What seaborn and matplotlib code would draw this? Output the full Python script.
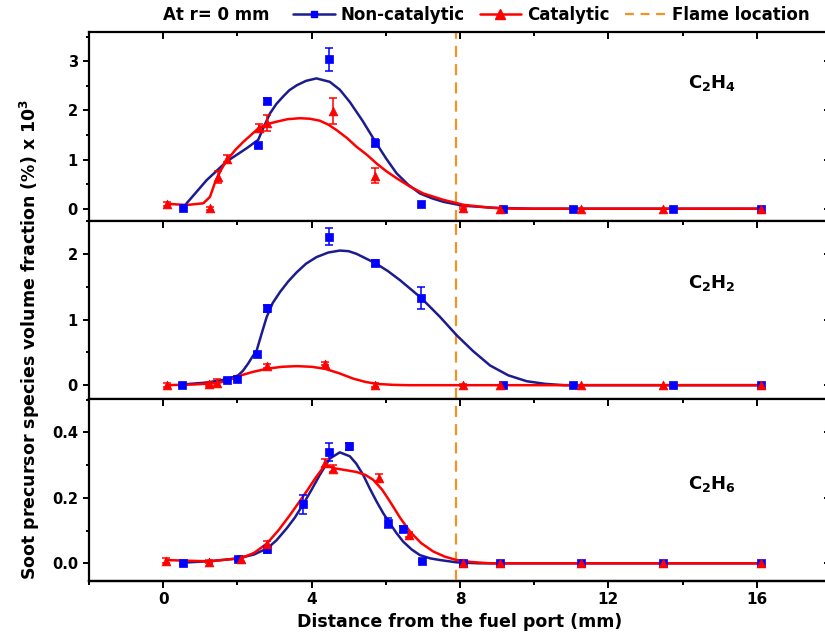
import numpy as np
import pandas as pd
import matplotlib
matplotlib.use("Agg")
import matplotlib.pyplot as plt
import seaborn as sns
from matplotlib.lines import Line2D
from matplotlib.ticker import MultipleLocator, FormatStrFormatter

# ---------------- data ----------------
# C2H4 panel
c2h4_nc_x = [0.54, 2.56, 2.81, 4.47, 5.72, 6.95, 9.16, 11.05, 13.75, 16.1]
c2h4_nc_y = [0.01, 1.29, 2.19, 3.04, 1.34, 0.10, 0.0, 0.0, 0.0, 0.0]
c2h4_nc_err = [0.0, 0.04, 0.06, 0.23, 0.07, 0.0, 0.0, 0.0, 0.0, 0.0]
c2h4_c_x = [0.09, 1.26, 1.47, 1.71, 2.59, 2.81, 4.57, 5.72, 8.09, 9.08, 11.25, 13.46, 16.1]
c2h4_c_y = [0.10, 0.01, 0.65, 1.02, 1.65, 1.75, 1.99, 0.67, 0.02, 0.0, 0.0, 0.0, 0.0]
c2h4_c_err = [0.04, 0.03, 0.12, 0.08, 0.08, 0.16, 0.27, 0.15, 0.02, 0.0, 0.0, 0.0, 0.0]
c2h4_nc_fit_x = [0.54, 1.17, 1.71, 2.25, 2.56, 2.72, 2.88, 3.05, 3.23, 3.4, 3.6, 3.85, 4.13, 4.49,
                 4.76, 5.03, 5.38, 5.72, 6.0, 6.29, 6.6, 6.92, 7.25, 7.55, 8.09, 9.0, 10.0, 16.1]
c2h4_nc_fit_y = [0.03, 0.58, 0.96, 1.23, 1.40, 1.68, 1.94, 2.13, 2.28, 2.41, 2.51, 2.60, 2.65, 2.58,
                 2.42, 2.17, 1.78, 1.36, 1.03, 0.72, 0.49, 0.31, 0.21, 0.14, 0.06, 0.015, 0.0, 0.0]
c2h4_c_fit_x = [0.09, 0.63, 1.08, 1.26, 1.39, 1.55, 1.71, 1.95, 2.16, 2.59, 2.85, 3.06, 3.35, 3.68,
                3.95, 4.22, 4.45, 4.67, 4.95, 5.21, 5.5, 5.75, 6.0, 6.29, 6.65, 7.01, 7.55, 8.09,
                8.8, 9.5, 16.1]
c2h4_c_fit_y = [0.10, 0.075, 0.11, 0.24, 0.52, 0.78, 0.98, 1.20, 1.36, 1.65, 1.73, 1.77, 1.82, 1.84,
                1.83, 1.79, 1.71, 1.60, 1.44, 1.26, 1.09, 0.92, 0.77, 0.62, 0.45, 0.31, 0.18, 0.08,
                0.02, 0.0, 0.0]

# C2H2 panel
c2h2_nc_x = [0.5, 1.71, 1.98, 2.54, 2.81, 4.46, 5.71, 6.95, 9.16, 11.05, 13.75, 16.1]
c2h2_nc_y = [0.0, 0.08, 0.10, 0.47, 1.17, 2.26, 1.86, 1.33, 0.0, 0.0, 0.0, 0.0]
c2h2_nc_err = [0.01, 0.02, 0.02, 0.03, 0.05, 0.13, 0.05, 0.17, 0.0, 0.0, 0.0, 0.0]
c2h2_c_x = [0.09, 1.23, 1.44, 2.79, 4.36, 5.71, 8.09, 9.08, 11.25, 13.46, 16.1]
c2h2_c_y = [0.0, 0.02, 0.04, 0.29, 0.33, 0.0, 0.0, 0.0, 0.0, 0.0, 0.0]
c2h2_c_err = [0.03, 0.03, 0.06, 0.03, 0.03, 0.03, 0.02, 0.0, 0.0, 0.0, 0.0]
c2h2_nc_fit_x = [0.5, 1.17, 1.71, 2.02, 2.15, 2.29, 2.4, 2.52, 2.65, 2.79, 2.95, 3.15, 3.37, 3.6,
                 3.85, 4.13, 4.45, 4.76, 5.0, 5.21, 5.71, 6.05, 6.38, 6.95, 7.46, 7.91, 8.35,
                 8.81, 9.3, 9.8, 10.3, 10.8, 16.1]
c2h2_nc_fit_y = [0.01, 0.04, 0.09, 0.15, 0.22, 0.33, 0.43, 0.53, 0.78, 1.04, 1.25, 1.42, 1.58, 1.72,
                 1.85, 1.95, 2.02, 2.05, 2.04, 2.00, 1.86, 1.74, 1.60, 1.33, 1.04, 0.76, 0.52,
                 0.30, 0.15, 0.06, 0.02, 0.0, 0.0]
c2h2_c_fit_x = [0.09, 0.8, 1.44, 1.75, 1.98, 2.4, 2.79, 3.2, 3.6, 4.0, 4.36, 4.75, 5.12, 5.45,
                5.75, 6.2, 6.6, 16.1]
c2h2_c_fit_y = [0.0, 0.01, 0.03, 0.07, 0.13, 0.20, 0.25, 0.28, 0.29, 0.28, 0.25, 0.18, 0.10, 0.05,
                0.02, 0.005, 0.0, 0.0]

# C2H6 panel
c2h6_nc_x = [0.52, 2.02, 2.81, 3.77, 4.47, 5.01, 6.06, 6.47, 6.98, 8.09, 9.08, 11.25, 13.48, 16.1]
c2h6_nc_y = [0.0, 0.013, 0.043, 0.18, 0.339, 0.357, 0.124, 0.105, 0.007, 0.0, 0.0, 0.0, 0.0, 0.0]
c2h6_nc_err = [0.004, 0.004, 0.01, 0.028, 0.027, 0.012, 0.015, 0.01, 0.003, 0.0, 0.0, 0.0, 0.0, 0.0]
c2h6_c_x = [0.07, 1.24, 2.11, 2.79, 4.36, 4.57, 5.82, 6.63, 8.09, 9.08, 11.25, 13.48, 16.1]
c2h6_c_y = [0.008, 0.005, 0.013, 0.059, 0.306, 0.289, 0.262, 0.087, 0.0, 0.0, 0.0, 0.0, 0.0]
c2h6_c_err = [0.008, 0.004, 0.008, 0.008, 0.012, 0.01, 0.01, 0.008, 0.005, 0.0, 0.0, 0.0, 0.0]
c2h6_nc_fit_x = [0.52, 1.3, 2.02, 2.45, 2.81, 3.05, 3.33, 3.55, 3.77, 4.0, 4.22, 4.49, 4.76, 5.03,
                 5.2, 5.39, 5.57, 5.75, 5.93, 6.11, 6.29, 6.47, 6.7, 6.92, 7.2, 7.46, 7.91, 8.5, 16.1]
c2h6_nc_fit_y = [0.002, 0.007, 0.015, 0.027, 0.046, 0.07, 0.107, 0.14, 0.18, 0.225, 0.27, 0.32,
                 0.339, 0.327, 0.305, 0.27, 0.228, 0.189, 0.153, 0.122, 0.092, 0.066, 0.042,
                 0.025, 0.015, 0.01, 0.003, 0.0, 0.0]
c2h6_c_fit_x = [0.07, 1.24, 2.11, 2.45, 2.79, 3.1, 3.42, 3.65, 3.86, 4.1, 4.36, 4.63, 4.9, 5.21,
                5.45, 5.66, 5.9, 6.11, 6.38, 6.65, 6.95, 7.28, 7.6, 7.91, 8.3, 8.81, 16.1]
c2h6_c_fit_y = [0.01, 0.006, 0.016, 0.032, 0.06, 0.10, 0.148, 0.185, 0.219, 0.26, 0.30, 0.29,
                0.285, 0.279, 0.27, 0.255, 0.225, 0.189, 0.14, 0.097, 0.062, 0.036, 0.02, 0.01,
                0.004, 0.0, 0.0]

flame_x = 7.9
species_labels = [r"$\mathbf{C_2H_4}$", r"$\mathbf{C_2H_2}$", r"$\mathbf{C_2H_6}$"]
series_labels = ["Non-catalytic", "Catalytic", "Flame location"]
x_ticks = [0, 4, 8, 12, 16]

# ---------------- style ----------------
sns.set_style("ticks")
plt.rcParams["font.family"] = ["DejaVu Sans"]
plt.rcParams["font.weight"] = "bold"
plt.rcParams["axes.labelweight"] = "bold"
plt.rcParams["axes.linewidth"] = 1.6
for key in ["text.color", "axes.labelcolor", "xtick.color", "ytick.color", "axes.edgecolor"]:
    plt.rcParams[key] = "black"

NAVY = "#1c1c8f"
BLUE = "#0000ff"
RED = "#ff0000"
ORANGE = "#f39325"

fig = plt.figure(figsize=(8.25, 6.4), dpi=100)
L, W = 0.1079, 0.8994
ax1 = fig.add_axes([L, 0.6547, W, 0.2958])
ax2 = fig.add_axes([L, 0.3766, W, 0.2781])
ax3 = fig.add_axes([L, 0.0927, W, 0.2839])

panels = [
    (ax1, c2h4_nc_fit_x, c2h4_nc_fit_y, c2h4_c_fit_x, c2h4_c_fit_y,
     c2h4_nc_x, c2h4_nc_y, c2h4_nc_err, c2h4_c_x, c2h4_c_y, c2h4_c_err,
     (-0.25, 3.6), 1, 0.5, "%d", (0.84, 0.73)),
    (ax2, c2h2_nc_fit_x, c2h2_nc_fit_y, c2h2_c_fit_x, c2h2_c_fit_y,
     c2h2_nc_x, c2h2_nc_y, c2h2_nc_err, c2h2_c_x, c2h2_c_y, c2h2_c_err,
     (-0.21, 2.5), 1, 0.5, "%d", (0.84, 0.65)),
    (ax3, c2h6_nc_fit_x, c2h6_nc_fit_y, c2h6_c_fit_x, c2h6_c_fit_y,
     c2h6_nc_x, c2h6_nc_y, c2h6_nc_err, c2h6_c_x, c2h6_c_y, c2h6_c_err,
     (-0.053, 0.502), 0.2, 0.1, "%.1f", (0.84, 0.53)),
]

for i, (ax, nfx, nfy, cfx, cfy, nx, ny, ne, cx, cy, ce, ylim, maj, mnr, fmt, tpos) in enumerate(panels):
    fit_nc = pd.DataFrame({"x": nfx, "y": nfy})
    fit_c = pd.DataFrame({"x": cfx, "y": cfy})
    pts_nc = pd.DataFrame({"x": nx, "y": ny, "e": ne})
    pts_c = pd.DataFrame({"x": cx, "y": cy, "e": ce})

    ax.axvline(flame_x, color=ORANGE, lw=1.6, ls=(0, (5, 3.2)), zorder=1)
    sns.lineplot(data=fit_nc, x="x", y="y", ax=ax, color=NAVY, lw=1.8, sort=False,
                 estimator=None, zorder=2)
    sns.lineplot(data=fit_c, x="x", y="y", ax=ax, color=RED, lw=1.8, sort=False,
                 estimator=None, zorder=3)
    e_nc = pts_nc[pts_nc.e > 0]
    e_c = pts_c[pts_c.e > 0]
    ax.errorbar(e_nc.x, e_nc.y, yerr=e_nc.e, fmt="none", ecolor=BLUE, elinewidth=1.1,
                capsize=3, capthick=1.1, zorder=4)
    ax.errorbar(e_c.x, e_c.y, yerr=e_c.e, fmt="none", ecolor=RED, elinewidth=1.1,
                capsize=3, capthick=1.1, zorder=5)
    sns.scatterplot(data=pts_nc, x="x", y="y", ax=ax, marker="s", s=28, color=BLUE,
                    edgecolor=BLUE, linewidth=0.5, zorder=6)
    sns.scatterplot(data=pts_c, x="x", y="y", ax=ax, marker="^", s=40, color=RED,
                    edgecolor=RED, linewidth=0.5, zorder=7)

    ax.set_xlim(-2, 18)
    ax.set_ylim(*ylim)
    ax.set_xlabel("")
    ax.set_ylabel("")
    ax.xaxis.set_major_locator(MultipleLocator(4))
    ax.xaxis.set_minor_locator(MultipleLocator(2))
    ax.yaxis.set_major_locator(MultipleLocator(maj))
    ax.yaxis.set_minor_locator(MultipleLocator(mnr))
    ax.yaxis.set_major_formatter(FormatStrFormatter(fmt))
    ax.tick_params(axis="x", which="both", direction="in", top=True, bottom=False,
                   labelbottom=False, labeltop=False)
    ax.tick_params(axis="x", which="major", length=5, width=1.4)
    ax.tick_params(axis="x", which="minor", length=3, width=1.4)
    ax.tick_params(axis="y", which="both", direction="out", left=True, right=False,
                   labelsize=10.5, width=1.4)
    ax.tick_params(axis="y", which="major", length=4.5)
    ax.tick_params(axis="y", which="minor", length=2.5)
    for lab in ax.get_yticklabels():
        lab.set_fontweight("bold")
    secy = ax.secondary_yaxis("right")
    secy.yaxis.set_major_locator(MultipleLocator(maj))
    secy.yaxis.set_minor_locator(MultipleLocator(mnr))
    secy.tick_params(axis="y", which="both", direction="in", labelright=False, width=1.4)
    secy.tick_params(axis="y", which="major", length=5)
    secy.tick_params(axis="y", which="minor", length=3)
    for sp in ax.spines.values():
        sp.set_linewidth(1.6)
        sp.set_color("black")
    ax.text(tpos[0], tpos[1], species_labels[i], transform=ax.transAxes, ha="center",
            va="center", fontsize=13, fontweight="bold")

secx = ax3.secondary_xaxis("bottom")
secx.set_xticks(x_ticks)
secx.xaxis.set_minor_locator(MultipleLocator(2))
secx.tick_params(axis="x", which="both", direction="out", width=1.4, labelsize=11)
secx.tick_params(axis="x", which="major", length=5)
secx.tick_params(axis="x", which="minor", length=3)
for lab in secx.get_xticklabels():
    lab.set_fontweight("bold")
secx.set_xlabel("Distance from the fuel port (mm)", fontsize=12.5, fontweight="bold", labelpad=4)

fig.text(0.036, 0.47, r"Soot precursor species volume fraction (%) x 10$^\mathbf{3}$",
         rotation=90, ha="center", va="center", fontsize=12.5, fontweight="bold")

fig.text(163 / 825, 1 - 15 / 640, "At r= 0 mm", ha="left", va="center", fontsize=12,
         fontweight="bold")
handles = [
    Line2D([], [], color=NAVY, lw=1.8, marker="s", markersize=5, markerfacecolor=BLUE,
           markeredgecolor=BLUE),
    Line2D([], [], color=RED, lw=1.8, marker="^", markersize=6.5, markerfacecolor=RED,
           markeredgecolor=RED),
    Line2D([], [], color=ORANGE, lw=1.6, ls=(0, (4, 3))),
]
leg = fig.legend(handles, series_labels, ncol=3, frameon=False, loc="center left",
                 bbox_to_anchor=(293 / 825, 1 - 15 / 640), handlelength=2.5,
                 handletextpad=0.35, columnspacing=0.9, borderpad=0, borderaxespad=0,
                 prop={"size": 12, "weight": "bold"})

fig.savefig("out.png", dpi=100)
